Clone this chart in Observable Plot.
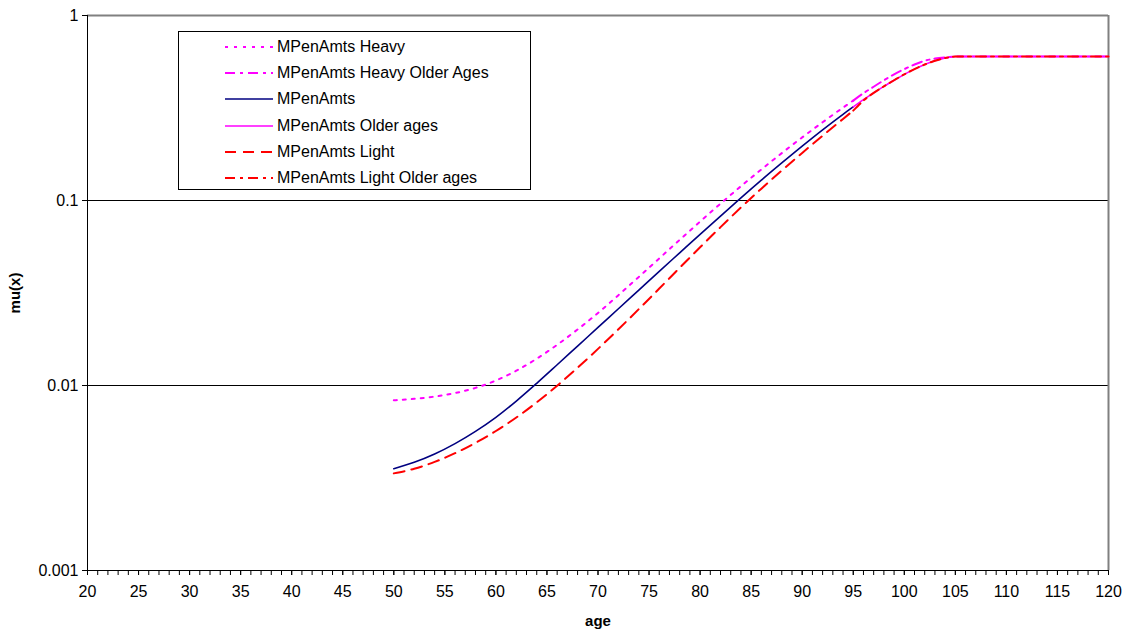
<!DOCTYPE html>
<html>
<head>
<meta charset="utf-8">
<script src="https://cdn.jsdelivr.net/npm/d3@7"></script>
<script src="https://cdn.jsdelivr.net/npm/@observablehq/plot@0.6"></script>
<style>
  html, body { margin: 0; padding: 0; background: #fff; }
  #wrap { position: relative; width: 1129px; height: 636px; font-family: "Liberation Sans", Arial, sans-serif; }
  #legend { position: absolute; left: 178px; top: 31px; width: 353px; height: 159px; border: 1px solid #000; background: #fff; box-sizing: border-box; }
  .row { position: absolute; left: 0; height: 20px; display: flex; align-items: center; }
  .row svg { margin-left: 46px; }
  .row span { margin-left: 4px; font-size: 16px; color: #000; white-space: nowrap; }
</style>
</head>
<body>
<div id="wrap"></div>
<script>
// ---- data ----
const mainAges = [50,52,54,56,58,60,62,64,66,68,70,72,74,76,78,80,82,84,86,88,90,92,94,95];
const heavy = [0.008318,0.008472,0.008710,0.009099,0.009705,0.010641,0.012023,0.013964,0.016596,0.020091,0.024660,0.030761,0.038637,0.048641,0.061235,0.076913,0.096161,0.119399,0.147231,0.180302,0.219280,0.264850,0.317687,0.346737];
const standard = [0.003548,0.003846,0.004266,0.004853,0.005649,0.006730,0.008241,0.010280,0.012942,0.016331,0.020606,0.026002,0.032810,0.041400,0.052119,0.065615,0.082414,0.103276,0.128825,0.159588,0.196789,0.240991,0.292415,0.320627];
const light = [0.003350,0.003548,0.003864,0.004305,0.004898,0.005675,0.006714,0.008110,0.009977,0.012474,0.015776,0.020137,0.025882,0.033420,0.043251,0.055847,0.071779,0.091622,0.115878,0.145211,0.180717,0.223872,0.276058,0.306196];
const oldAges = [95,96,97,98,99,100,101,102,103,104,105,110,115,120];
const heavyOld = [0.3467,0.3802,0.4121,0.4467,0.4808,0.5129,0.5433,0.5689,0.5848,0.5943,0.6,0.6,0.6,0.6];
const standardOld = [0.3206,0.3508,0.3819,0.4140,0.4467,0.4808,0.5129,0.5433,0.5689,0.5888,0.6,0.6,0.6,0.6];
const lightOld = [0.3062,0.3467,0.3819,0.4140,0.4467,0.4808,0.5129,0.5433,0.5689,0.5888,0.6,0.6,0.6,0.6];
const yTicks = [0.001, 0.01, 0.1, 1];
const yTickLabels = ["0.001", "0.01", "0.1", "1"];
const xMajor = [20,25,30,35,40,45,50,55,60,65,70,75,80,85,90,95,100,105,110,115,120];
const xMinor = d3.range(20, 121, 1);

const series = [
  {name: "MPenAmts Heavy", ages: mainAges, values: heavy, stroke: "#FF00FF", dash: "3,6", width: 2},
  {name: "MPenAmts Heavy Older Ages", ages: oldAges, values: heavyOld, stroke: "#FF00FF", dash: "10,5,3,5", width: 2},
  {name: "MPenAmts", ages: mainAges, values: standard, stroke: "#000080", dash: null, width: 1.6},
  {name: "MPenAmts Older ages", ages: oldAges, values: standardOld, stroke: "#FF00FF", dash: null, width: 1.6},
  {name: "MPenAmts Light", ages: mainAges, values: light, stroke: "#FF0000", dash: "11,7", width: 2},
  {name: "MPenAmts Light Older ages", ages: oldAges, values: lightOld, stroke: "#FF0000", dash: "10,5,3,5", width: 2}
];

const lineMarks = series.map(s => Plot.line(
  s.ages.map((a, i) => ({age: a, mu: s.values[i]})),
  {x: "age", y: "mu", stroke: s.stroke, strokeWidth: s.width, strokeDasharray: s.dash, curve: "monotone-x"}
));

const chart = Plot.plot({
  width: 1129,
  height: 636,
  marginTop: 15,
  marginLeft: 87,
  marginRight: 21,
  marginBottom: 66,
  style: {fontFamily: "'Liberation Sans', Arial, sans-serif", fontSize: "16px", background: "#fff"},
  x: {domain: [20, 120]},
  y: {type: "log", domain: [0.001, 1]},
  marks: [
    Plot.ruleY([0.01, 0.1], {stroke: "#000", strokeWidth: 1}),
    Plot.ruleY([1], {stroke: "#808080", strokeWidth: 2}),
    Plot.ruleX([120], {stroke: "#808080", strokeWidth: 2}),
    ...lineMarks,
    Plot.ruleX([20], {stroke: "#000", strokeWidth: 1}),
    Plot.ruleY([0.001], {stroke: "#000", strokeWidth: 1}),
    Plot.axisY({ticks: yTicks, tickFormat: d => yTickLabels[yTicks.indexOf(d)], tickSize: 5, tickPadding: 4, fontSize: 16,
      label: "mu(x)", labelAnchor: "center", labelOffset: 78, labelArrow: "none"}),
    Plot.axisX({ticks: xMinor, tickSize: 5, tickFormat: () => "", label: null}),
    Plot.axisX({ticks: xMajor, tickSize: 5, tickPadding: 10, fontSize: 16, label: "age", labelAnchor: "center", labelOffset: 55, labelArrow: "none"})
  ]
});

d3.select(chart).selectAll("[aria-label='y-axis label'] text, [aria-label='x-axis label'] text")
  .style("font-weight", "bold").style("font-size", "15px");

const wrap = document.getElementById("wrap");
wrap.appendChild(chart);

const legend = document.createElement("div");
legend.id = "legend";
series.forEach((s, i) => {
  const row = document.createElement("div");
  row.className = "row";
  row.style.top = (4.7 + i * 26.3) + "px";
  const ns = "http://www.w3.org/2000/svg";
  const svg = document.createElementNS(ns, "svg");
  svg.setAttribute("width", 48);
  svg.setAttribute("height", 20);
  const ln = document.createElementNS(ns, "line");
  ln.setAttribute("x1", 0); ln.setAttribute("x2", 48);
  ln.setAttribute("y1", 10); ln.setAttribute("y2", 10);
  ln.setAttribute("stroke", s.stroke);
  ln.setAttribute("stroke-width", s.width);
  if (s.dash) ln.setAttribute("stroke-dasharray", s.dash);
  svg.appendChild(ln);
  const t = document.createElement("span");
  t.textContent = s.name;
  row.appendChild(svg);
  row.appendChild(t);
  legend.appendChild(row);
});
wrap.appendChild(legend);
</script>
</body>
</html>
